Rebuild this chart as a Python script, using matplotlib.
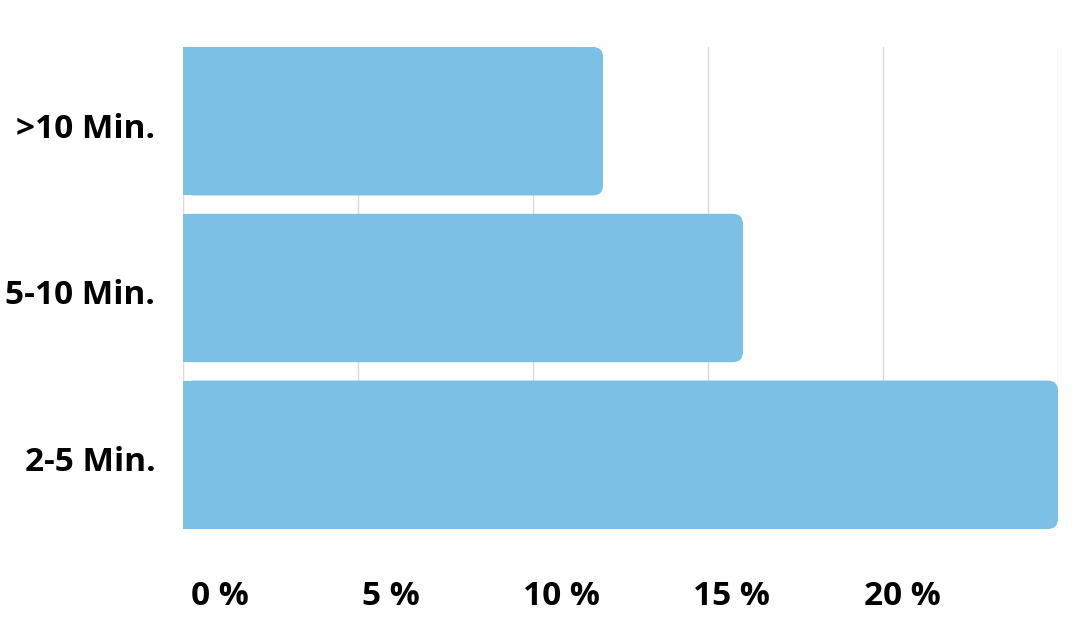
import matplotlib.pyplot as plt
import matplotlib.transforms as mtransforms
from matplotlib.patches import FancyBboxPatch, Rectangle

categories = ["2-5 Min.", "5-10 Min.", ">10 Min."]
values = [25, 16, 12]
tick_labels = ["0 %", "5 %", "10 %", "15 %", "20 %"]

bar_color = "#7dc0e6"
plt.rcParams['font.family'] = ['Open Sans', 'DejaVu Sans']

fig = plt.figure(figsize=(10.8, 6.35), dpi=100)
ax = fig.add_axes([183 / 1080, 1 - 529 / 635, 875 / 1080, 482 / 635])

bar_h = 0.89
bars = ax.barh(range(len(categories)), values, height=bar_h, color=bar_color, zorder=2)

# swap plain bars for ones rounded on the right end
rx = 0.29   # ~10px in x units
ry = 0.06   # ~10px in y units
for b in bars:
    x, y = b.get_x(), b.get_y()
    w, h = b.get_width(), b.get_height()
    b.set_visible(False)
    ax.add_patch(FancyBboxPatch((x, y), w, h,
                                boxstyle=f"round,pad=0,rounding_size={rx}",
                                mutation_aspect=ry / rx,
                                fc=bar_color, ec="none", zorder=2))
    ax.add_patch(Rectangle((x, y), w / 2, h, fc=bar_color, ec="none", zorder=2))

ax.set_xlim(0, 25)
ax.set_ylim(-bar_h / 2, len(categories) - 1 + bar_h / 2)

# gridlines at 0..25, labels sit on their own spacing
ax.set_xticks([0, 5, 10, 15, 20, 25], minor=True)
ax.grid(axis='x', which='minor', color='#d9d9d9', lw=1, zorder=0)
ax.set_xticks([1.06, 5.93, 10.8, 15.67, 20.54])
ax.set_xticklabels(tick_labels, fontsize=24, fontweight='bold')
ax.tick_params(axis='x', which='both', length=0, pad=37)

ax.set_yticks(range(len(categories)))
ax.set_yticklabels(categories, fontsize=24, fontweight='bold', va='center_baseline')
ax.tick_params(axis='y', length=0, pad=20)
shift = mtransforms.ScaledTranslation(0, -4 / 100, fig.dpi_scale_trans)
for lab in ax.get_yticklabels():
    lab.set_transform(lab.get_transform() + shift)

for s in ax.spines.values():
    s.set_visible(False)

plt.savefig("out.png", dpi=100)
